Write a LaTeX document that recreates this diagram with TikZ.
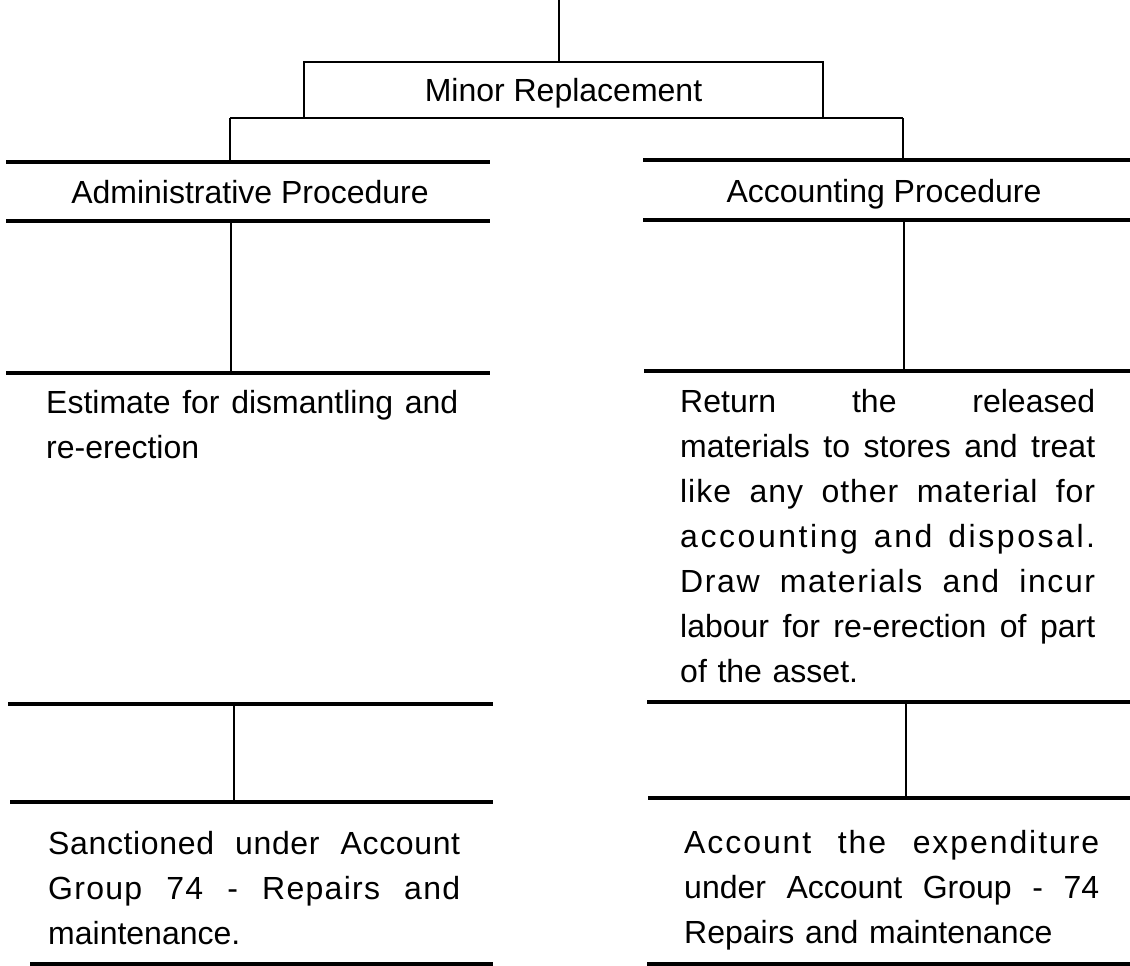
\documentclass[tikz,border=0pt]{standalone}
\usepackage{fontspec}
\setmainfont{Liberation Sans}
\newcommand{\jline}[2][412pt]{\makebox[#1][l]{#2}}
\newcommand{\lsp}[2]{{\addfontfeature{LetterSpace=#1}#2}}
\begin{document}
\begin{tikzpicture}[x=1pt,y=-1pt,
  sepline/.style={line width=3.5pt},
  stemline/.style={line width=2.5pt},
  lbl/.style={font=\fontsize{32}{45}\selectfont, inner sep=0pt},
  hdr/.style={lbl, text height=23pt, text depth=0pt},
  paratext/.style={lbl, anchor=base west, align=left},
]
\useasboundingbox (0,0) rectangle (1130,966);

% top box
\node[hdr, draw, line width=2.5pt, minimum width=519pt, minimum height=56pt] (minor) at (563.5,90) {Minor Replacement};
\coordinate (top) at (559,0);
\draw[stemline] (top) -- (top |- minor.north);
\coordinate (busL) at (230,118);
\coordinate (busR) at (903,118);
\draw[stemline] (busL) -- (busR);

% headers
\coordinate (a1) at (6,162);   \coordinate (a2) at (490,162);
\coordinate (a3) at (6,221);   \coordinate (a4) at (490,221);
\coordinate (b1) at (643,160); \coordinate (b2) at (1130,160);
\coordinate (b3) at (643,220); \coordinate (b4) at (1130,220);
\draw[sepline] (a1) -- (a2);
\draw[sepline] (a3) -- (a4);
\draw[sepline] (b1) -- (b2);
\draw[sepline] (b3) -- (b4);
\draw[stemline] (busL) -- (busL |- a1);
\draw[stemline] (busR) -- (busR |- b1);
\node[hdr] (admin) at (250,191.5) {Administrative Procedure};
\node[hdr] (acct) at (884,190.5) {Accounting Procedure};

% first column links
\coordinate (a5) at (6,373);   \coordinate (a6) at (490,373);
\coordinate (b5) at (644,371); \coordinate (b6) at (1130,371);
\coordinate (av1) at (231,221); \coordinate (av2) at (231,373);
\coordinate (bv1) at (904,220); \coordinate (bv2) at (904,371);
\draw[sepline] (a5) -- (a6);
\draw[sepline] (b5) -- (b6);
\draw[stemline] (av1) -- (av2);
\draw[stemline] (bv1) -- (bv2);

\node[paratext, text width=412pt] (est) at (46,413)
  {\jline{Estimate\hfill for\hfill dismantling\hfill and}\\re-erection};
\node[paratext, text width=415pt] (ret) at (680,412)
  {\jline[415pt]{Return\hfill the\hfill released}\\
   \jline[415pt]{materials\hfill to\hfill stores\hfill and\hfill treat}\\
   \jline[415pt]{\lsp{3}{like}\hfill \lsp{3}{any}\hfill \lsp{3}{other}\hfill \lsp{3}{material}\hfill \lsp{3}{for}}\\
   \jline[415pt]{\lsp{8}{accounting}\hfill \lsp{8}{and}\hfill \lsp{8}{disposal.}}\\
   \jline[415pt]{\lsp{5}{Draw}\hfill \lsp{5}{materials}\hfill \lsp{5}{and}\hfill \lsp{5}{incur}}\\
   \jline[415pt]{labour\hfill for\hfill re-erection\hfill of\hfill part}\\
   of the asset.};

% second links
\coordinate (a7) at (8,704);    \coordinate (a8) at (493,704);
\coordinate (a9) at (10,802);   \coordinate (a10) at (493,802);
\coordinate (b7) at (647,702);  \coordinate (b8) at (1130,702);
\coordinate (b9) at (648,798);  \coordinate (b10) at (1130,798);
\coordinate (av3) at (234,704); \coordinate (av4) at (234,802);
\coordinate (bv3) at (906,702); \coordinate (bv4) at (906,798);
\draw[sepline] (a7) -- (a8);
\draw[sepline] (a9) -- (a10);
\draw[sepline] (b7) -- (b8);
\draw[sepline] (b9) -- (b10);
\draw[stemline] (av3) -- (av4);
\draw[stemline] (bv3) -- (bv4);

\node[paratext, text width=412pt] (sanc) at (48,854)
  {\jline{\lsp{2}{Sanctioned}\hfill \lsp{2}{under}\hfill \lsp{2}{Account}}\\
   \jline{\lsp{4}{Group}\hfill \lsp{4}{74}\hfill -\hfill \lsp{4}{Repairs}\hfill \lsp{4}{and}}\\
   maintenance.};
\node[paratext, text width=415pt] (accexp) at (684,853)
  {\jline[415pt]{\lsp{6}{Account}\hfill \lsp{6}{the}\hfill \lsp{6}{expenditure}}\\
   \jline[415pt]{under\hfill Account\hfill Group\hfill -\hfill 74}\\
   Repairs and maintenance};

% bottom rules
\coordinate (a11) at (30,964);  \coordinate (a12) at (493,964);
\coordinate (b11) at (647,964); \coordinate (b12) at (1130,964);
\draw[sepline] (a11) -- (a12);
\draw[sepline] (b11) -- (b12);
\end{tikzpicture}
\end{document}
